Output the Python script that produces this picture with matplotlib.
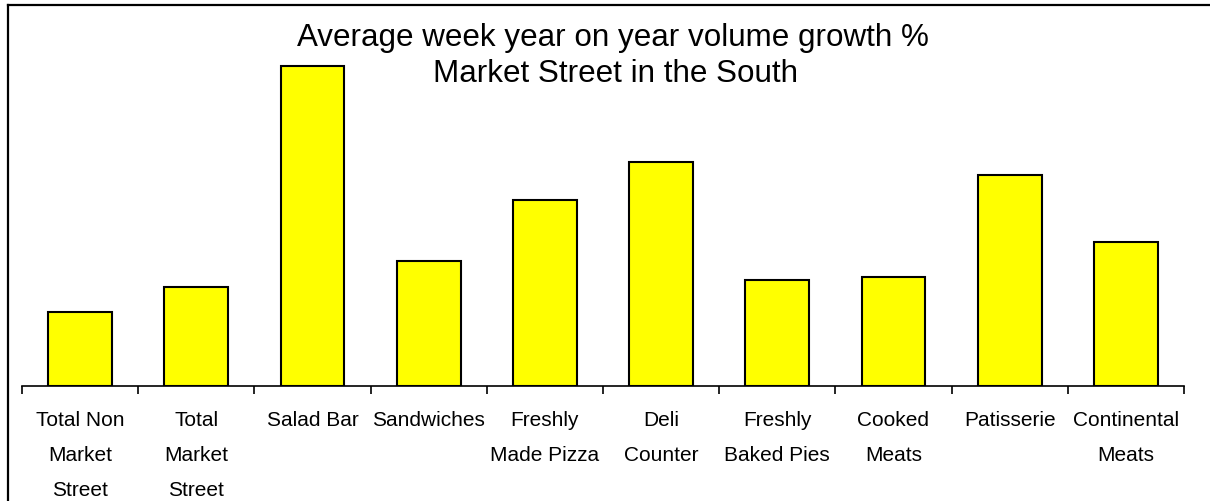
import matplotlib
matplotlib.use("Agg")
import matplotlib.pyplot as plt
from matplotlib.lines import Line2D
import numpy as np

plt.rcParams['font.family'] = ['Liberation Sans', 'DejaVu Sans']

FIG_W, FIG_H = 1210, 501

# category labels and average weekly YoY volume growth (%)
categories = [
    "Total Non\nMarket\nStreet",
    "Total\nMarket\nStreet",
    "Salad Bar",
    "Sandwiches",
    "Freshly\nMade Pizza",
    "Deli\nCounter",
    "Freshly\nBaked Pies",
    "Cooked\nMeats",
    "Patisserie",
    "Continental\nMeats",
]
growth = [2.3, 3.1, 10.0, 3.9, 5.8, 7.0, 3.3, 3.4, 6.6, 4.5]

title_lines = ["Average week year on year volume growth %", "Market Street in the South"]


def px_x(px):
    return px / FIG_W


def px_y(px):
    # pixel rows are counted from the top
    return 1 - px / FIG_H


fig = plt.figure(figsize=(FIG_W / 100, FIG_H / 100), dpi=100)
ax = fig.add_axes([px_x(22), px_y(386), px_x(1184) - px_x(22), px_y(5) - px_y(386)])

x = np.arange(len(categories))
ax.bar(x, growth, width=0.55, color="#ffff00", edgecolor="black", linewidth=1.5, zorder=2)

ax.set_xlim(-0.5, len(categories) - 0.5)
ax.set_ylim(0, 11.9)

for side in ("left", "right", "top"):
    ax.spines[side].set_visible(False)
ax.spines["bottom"].set_linewidth(1.2)
ax.set_yticks([])

# labels sit under the bars, tick marks on the category boundaries
ax.set_xticks(x)
ax.set_xticklabels(categories, fontsize=15, linespacing=2.08)
ax.tick_params(axis="x", which="major", length=0, pad=18)
ax.set_xticks(np.arange(len(categories) + 1) - 0.5, minor=True)
ax.tick_params(axis="x", which="minor", length=6, width=1.2, direction="out", color="black")

# chart title, two lines
fig.text(px_x(613), px_y(46), title_lines[0], ha="center", va="baseline", fontsize=22.6)
fig.text(px_x(616), px_y(82), title_lines[1], ha="center", va="baseline", fontsize=22.6)

# frame round the chart area (only top and left fall inside the image)
fig.add_artist(Line2D([px_x(8), 1], [px_y(5), px_y(5)], transform=fig.transFigure,
                      color="black", linewidth=1.6))
fig.add_artist(Line2D([px_x(8), px_x(8)], [px_y(5), 0], transform=fig.transFigure,
                      color="black", linewidth=1.6))

fig.savefig("out.png", dpi=100)
